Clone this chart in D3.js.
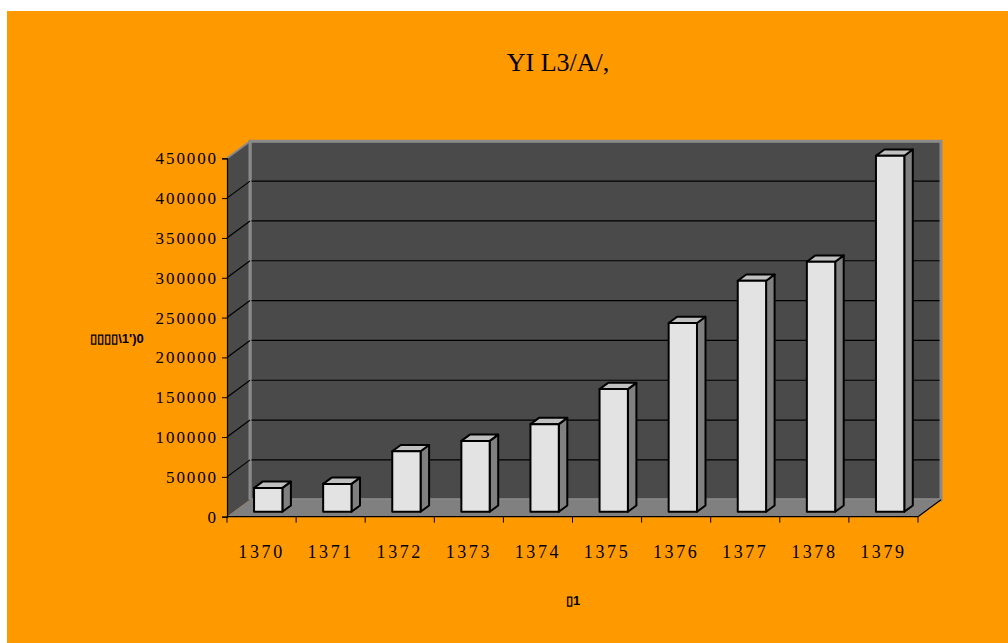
<!DOCTYPE html>
<html>
<head>
<meta charset="utf-8">
<script src="https://cdn.jsdelivr.net/npm/d3@7"></script>
<style>
  html, body { margin: 0; padding: 0; background: #ffffff; }
  svg { display: block; }
</style>
</head>
<body>
<svg id="chart" width="1008" height="643"></svg>
<script>
// Yearly totals, 1370–1379
const years = ["1370", "1371", "1372", "1373", "1374", "1375", "1376", "1377", "1378", "1379"];
const values = [30000, 35000, 76000, 89000, 110000, 154000, 237000, 290000, 314000, 447000];
const yTicks = [0, 50000, 100000, 150000, 200000, 250000, 300000, 350000, 400000, 450000];
const titleText = "YI L3/A/,";
const yTitle = "\u25AF\u25AF\u25AF\u25AF\\1')0";
const xTitle = "\u25AF1";

const svg = d3.select("#chart");

// orange panel
svg.append("rect").attr("x", 7).attr("y", 11).attr("width", 1001).attr("height", 632).attr("fill", "#ff9900");

// plot geometry (front plane) and depth offset of the 3D box
const plotLeft = 227, plotRight = 918, plotBottom = 516.7, plotTop = 158.3;
const DX = 23, DY = -17;

const x = d3.scaleBand().domain(years).range([plotLeft, plotRight]).padding(0);
const y = d3.scaleLinear().domain([0, 450000]).range([plotBottom, plotTop]);

const wall = "#4a4a4a", edge = "#8a8a8a", floorCol = "#808080";

// back wall
svg.append("rect")
  .attr("x", plotLeft + DX).attr("y", plotTop + DY)
  .attr("width", plotRight - plotLeft).attr("height", plotBottom - plotTop)
  .attr("fill", wall).attr("stroke", edge).attr("stroke-width", 3);

// side wall
svg.append("path")
  .attr("d", `M${plotLeft},${plotBottom}L${plotLeft},${plotTop}L${plotLeft + DX},${plotTop + DY}L${plotLeft + DX},${plotBottom + DY}Z`)
  .attr("fill", wall);
svg.append("line")
  .attr("x1", plotLeft).attr("y1", plotTop).attr("x2", plotLeft + DX).attr("y2", plotTop + DY)
  .attr("stroke", edge).attr("stroke-width", 2);
svg.append("line")
  .attr("x1", plotLeft + DX).attr("y1", plotTop + DY).attr("x2", plotLeft + DX).attr("y2", plotBottom + DY)
  .attr("stroke", edge).attr("stroke-width", 3);

// floor
svg.append("path")
  .attr("d", `M${plotLeft},${plotBottom}L${plotRight},${plotBottom}L${plotRight + DX},${plotBottom + DY}L${plotLeft + DX},${plotBottom + DY}Z`)
  .attr("fill", floorCol);

// gridlines on side wall and back wall
const grid = svg.append("g");
yTicks.filter(t => t > 0 && t < 450000).forEach(t => {
  grid.append("line")
    .attr("x1", plotLeft).attr("y1", y(t)).attr("x2", plotLeft + DX).attr("y2", y(t) + DY)
    .attr("stroke", "#000").attr("stroke-width", 1.2);
  grid.append("line")
    .attr("x1", plotLeft + DX + 1.5).attr("y1", y(t) + DY).attr("x2", plotRight + DX - 1.5).attr("y2", y(t) + DY)
    .attr("stroke", "#000").attr("stroke-width", 1.2);
});

// right floor edge
svg.append("line")
  .attr("x1", plotRight).attr("y1", plotBottom).attr("x2", plotRight + DX).attr("y2", plotBottom + DY)
  .attr("stroke", "#000").attr("stroke-width", 1.2);

// 3D columns
const f0 = 0.29, f1 = 0.66;
const bw = x.bandwidth() * 0.41;
const bars = svg.append("g");
years.forEach((yr, i) => {
  const cx = x(yr) + x.bandwidth() / 2 + f0 * DX;
  const x0 = cx - bw / 2, x1 = cx + bw / 2;
  const yb = y(0) + f0 * DY, yt = y(values[i]) + f0 * DY;
  const ddx = (f1 - f0) * DX, ddy = (f1 - f0) * DY;
  const g = bars.append("g").attr("stroke", "#000").attr("stroke-width", 2).attr("stroke-linejoin", "round");
  g.append("path")
    .attr("d", `M${x1},${yb}L${x1},${yt}L${x1 + ddx},${yt + ddy}L${x1 + ddx},${yb + ddy}Z`)
    .attr("fill", "#808080");
  g.append("path")
    .attr("d", `M${x0},${yt}L${x1},${yt}L${x1 + ddx},${yt + ddy}L${x0 + ddx},${yt + ddy}Z`)
    .attr("fill", "#c0c0c0");
  g.append("rect")
    .attr("x", x0).attr("y", yt).attr("width", x1 - x0).attr("height", yb - yt)
    .attr("fill", "#e3e3e3");
});

// front axes
const yAxis = d3.axisLeft(y).tickValues(yTicks).tickSize(5).tickPadding(4).tickFormat(d3.format("d"));
const ya = svg.append("g").attr("transform", `translate(${plotLeft},0)`).call(yAxis);
ya.select(".domain").attr("stroke", "#000").attr("stroke-width", 1.2);
ya.selectAll(".tick line").attr("stroke", "#000");
ya.selectAll("text")
  .attr("font-family", "'Liberation Serif', 'Times New Roman', serif")
  .attr("font-size", 17).attr("letter-spacing", "1.9px").attr("fill", "#000");

const xAxis = d3.axisBottom(x).tickSize(0).tickPadding(0);
const xa = svg.append("g").attr("transform", `translate(0,${plotBottom})`).call(xAxis);
xa.select(".domain").remove();
xa.selectAll("text")
  .attr("dy", 0).attr("y", 41)
  .attr("font-family", "'Liberation Serif', 'Times New Roman', serif")
  .attr("font-size", 18).attr("letter-spacing", "2.6px").attr("fill", "#000");
svg.append("line")
  .attr("x1", plotLeft).attr("y1", plotBottom).attr("x2", plotRight).attr("y2", plotBottom)
  .attr("stroke", "#000").attr("stroke-width", 1.2);
// category boundary ticks
xa.selectAll(".bound").data(d3.range(years.length + 1)).join("line")
  .attr("x1", i => plotLeft + i * x.step()).attr("x2", i => plotLeft + i * x.step())
  .attr("y1", 0).attr("y2", 6).attr("stroke", "#000");

// titles
svg.append("text")
  .attr("x", 558).attr("y", 71).attr("text-anchor", "middle")
  .attr("font-family", "'Liberation Serif', 'Times New Roman', serif")
  .attr("font-size", 26).attr("fill", "#000").text(titleText);

svg.append("text")
  .attr("x", 117).attr("y", 343).attr("text-anchor", "middle")
  .attr("font-family", "'Liberation Sans', Arial, sans-serif").attr("font-weight", "bold")
  .attr("font-size", 13).attr("fill", "#000").text(yTitle);

svg.append("text")
  .attr("x", 573).attr("y", 605).attr("text-anchor", "middle")
  .attr("font-family", "'Liberation Sans', Arial, sans-serif").attr("font-weight", "bold")
  .attr("font-size", 13).attr("fill", "#000").text(xTitle);
</script>
</body>
</html>
